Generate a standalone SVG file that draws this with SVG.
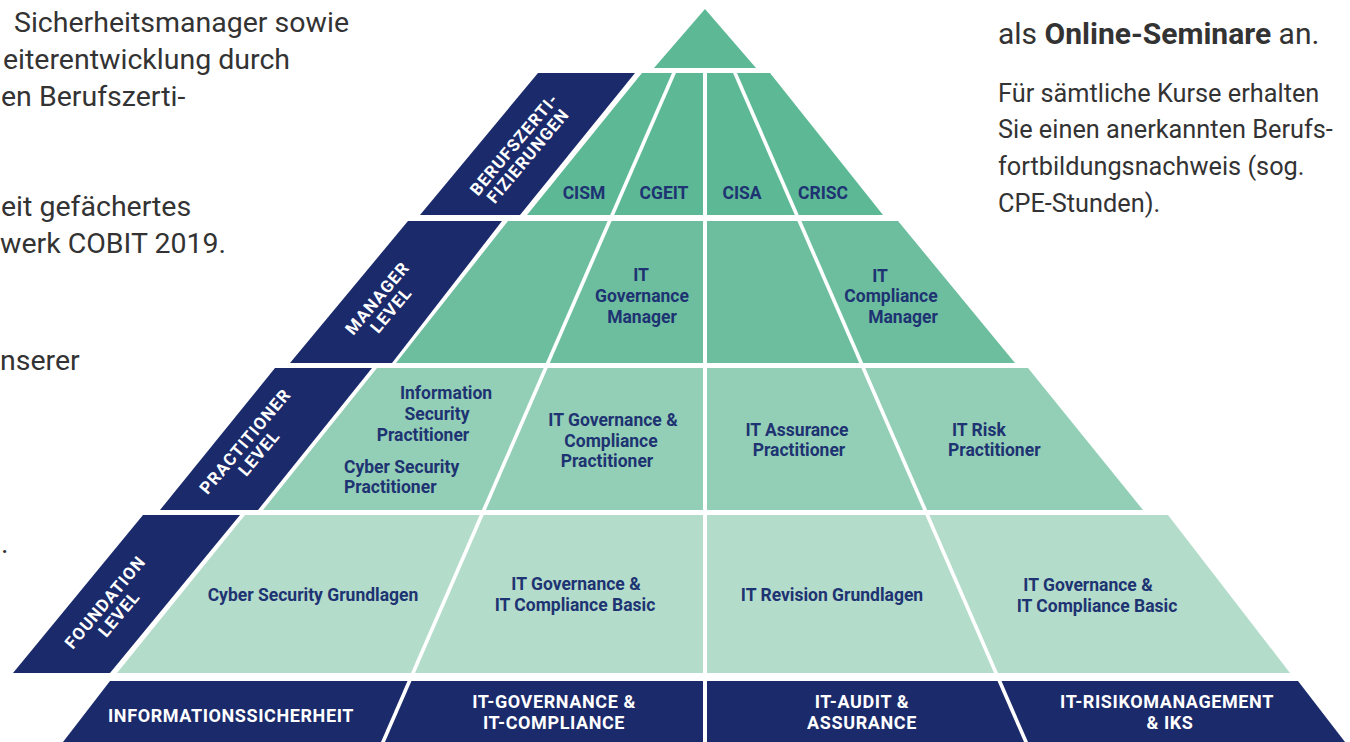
<svg xmlns="http://www.w3.org/2000/svg" width="1350" height="742" viewBox="0 0 1350 742">
<style>
.g0{fill:#5db896}.g1{fill:#6cbe9f}.g2{fill:#93cfb6}.g3{fill:#b3dccb}.nv{fill:#1b2a6b}
.t{font-family:Roboto,"Liberation Sans",sans-serif;font-weight:700;font-size:17.5px;fill:#1e3372;text-anchor:middle}
.ts{text-anchor:start}
.bar{font-family:Roboto,"Liberation Sans",sans-serif;font-weight:700;font-size:18px;fill:#ffffff;text-anchor:middle;letter-spacing:0.6px}
.band{font-family:Roboto,"Liberation Sans",sans-serif;font-weight:700;font-size:17px;fill:#ffffff;text-anchor:middle;letter-spacing:1px}
.body{font-family:Roboto,"Liberation Sans",sans-serif;font-size:28.5px;fill:#333333}
.head{font-family:Roboto,"Liberation Sans",sans-serif;font-size:30px;fill:#333333}
.para{font-family:Roboto,"Liberation Sans",sans-serif;font-size:25.3px;fill:#333333}
</style>
<rect width="1350" height="742" fill="#ffffff"/>
<g id="body-text-left">
<text class="body" x="14" y="32">Sicherheitsmanager sowie</text>
<text class="body" x="3" y="69">eiterentwicklung durch</text>
<text class="body" x="1" y="106">en Berufszerti-</text>
<text class="body" x="1" y="216">eit gefächertes</text>
<text class="body" x="0" y="253">werk COBIT 2019.</text>
<text class="body" x="0" y="370">nserer</text>
<text class="body" x="1" y="553">.</text>
</g>
<g id="body-text-right">
<text class="head" x="998" y="44">als <tspan font-weight="700">Online-Seminare</tspan> an.</text>
<text class="para" x="998" y="102">Für sämtliche Kurse erhalten</text>
<text class="para" x="998" y="138">Sie einen anerkannten Berufs-</text>
<text class="para" x="998" y="175">fortbildungsnachweis (sog.</text>
<text class="para" x="998" y="212">CPE-Stunden).</text>
</g>
<g id="apex"><polygon class="g0" points="705,9 756,68 654,68"/></g>
<g id="band-cert"><polygon class="nv" points="538,73 635,73 520,215 420,215"/>
<g transform="translate(521,150) rotate(-50)"><text class="band" y="-3">BERUFSZERTI-</text><text class="band" y="15">FIZIERUNGEN</text></g></g>
<g id="band-manager"><polygon class="nv" points="408,221 502,221 392,363 290,363"/>
<g transform="translate(384,304) rotate(-50)"><text class="band" y="-3">MANAGER</text><text class="band" y="15">LEVEL</text></g></g>
<g id="band-practitioner"><polygon class="nv" points="275,368 372,368 258,510 160,510"/>
<g transform="translate(252,447) rotate(-50)"><text class="band" y="-3">PRACTITIONER</text><text class="band" y="15">LEVEL</text></g></g>
<g id="band-foundation"><polygon class="nv" points="143,515 240,515 110,673 13,673"/>
<g transform="translate(112,608) rotate(-50)"><text class="band" y="-3">FOUNDATION</text><text class="band" y="15">LEVEL</text></g></g>
<g id="cism"><polygon class="g0" points="642,73 672,73 610.2,215 527,215"/><text class="t" x="584" y="199">CISM</text></g>
<g id="cgeit"><polygon class="g0" points="676,73 703,73 703,215 614.2,215"/><text class="t" x="664" y="199">CGEIT</text></g>
<g id="cisa"><polygon class="g0" points="707,73 733,73 794.8,215 707,215"/><text class="t" x="742" y="199">CISA</text></g>
<g id="crisc"><polygon class="g0" points="737,73 770,73 883,215 798.8,215"/><text class="t" x="823" y="199">CRISC</text></g>
<g id="manager-1"><polygon class="g1" points="508,221 607.6,221 545.8,363 396,363"/></g>
<g id="it-governance-manager"><polygon class="g1" points="611.6,221 703,221 703,363 549.8,363"/>
<text class="t" x="641" y="281">IT</text><text class="t" x="642" y="302">Governance</text><text class="t" x="642" y="323">Manager</text></g>
<g id="manager-3"><polygon class="g1" points="707,221 797.4,221 859.2,363 707,363"/></g>
<g id="it-compliance-manager"><polygon class="g1" points="801.4,221 898,221 1015,363 863.2,363"/>
<text class="t" x="880" y="282">IT</text><text class="t" x="891" y="302">Compliance</text><text class="t" x="903" y="323">Manager</text></g>
<g id="security-practitioner"><polygon class="g2" points="377,368 543.7,368 481.9,510 263,510"/>
<text class="t" x="446" y="399">Information</text><text class="t" x="437" y="420">Security</text><text class="t" x="423" y="441">Practitioner</text>
<text class="t ts" x="344" y="473">Cyber Security</text><text class="t ts" x="344" y="493">Practitioner</text></g>
<g id="it-governance-compliance-practitioner"><polygon class="g2" points="547.7,368 703,368 703,510 485.9,510"/>
<text class="t" x="613" y="426">IT Governance &amp;</text><text class="t" x="611" y="447">Compliance</text><text class="t" x="607" y="467">Practitioner</text></g>
<g id="it-assurance-practitioner"><polygon class="g2" points="707,368 861.3,368 923.1,510 707,510"/>
<text class="t" x="797" y="436">IT Assurance</text><text class="t" x="799" y="456">Practitioner</text></g>
<g id="it-risk-practitioner"><polygon class="g2" points="865.3,368 1028,368 1143,510 927.1,510"/>
<text class="t ts" x="952" y="436">IT Risk</text><text class="t ts" x="948" y="456">Practitioner</text></g>
<g id="cyber-security-grundlagen"><polygon class="g3" points="245,515 479.7,515 411,673 117,673"/>
<text class="t" x="313" y="601">Cyber Security Grundlagen</text></g>
<g id="it-governance-basic-1"><polygon class="g3" points="483.7,515 703,515 703,673 415,673"/>
<text class="t" x="576" y="590">IT Governance &amp;</text><text class="t" x="575" y="611">IT Compliance Basic</text></g>
<g id="it-revision-grundlagen"><polygon class="g3" points="707,515 925.3,515 994,673 707,673"/>
<text class="t" x="832" y="601">IT Revision Grundlagen</text></g>
<g id="it-governance-basic-2"><polygon class="g3" points="929.3,515 1168,515 1290,673 998,673"/>
<text class="t" x="1088" y="591">IT Governance &amp;</text><text class="t" x="1097" y="612">IT Compliance Basic</text></g>
<g id="bar-informationssicherheit"><polygon class="nv" points="110,681 407.5,681 381,742 63,742"/>
<text class="bar" x="231" y="722">INFORMATIONSSICHERHEIT</text></g>
<g id="bar-it-governance"><polygon class="nv" points="411.5,681 703,681 703,742 385,742"/>
<text class="bar" x="554" y="708">IT-GOVERNANCE &amp;</text><text class="bar" x="554" y="729">IT-COMPLIANCE</text></g>
<g id="bar-it-audit"><polygon class="nv" points="707,681 997.5,681 1024,742 707,742"/>
<text class="bar" x="862" y="708">IT-AUDIT &amp;</text><text class="bar" x="862" y="729">ASSURANCE</text></g>
<g id="bar-it-risiko"><polygon class="nv" points="1001.5,681 1298,681 1345,742 1028,742"/>
<text class="bar" x="1167" y="708">IT-RISIKOMANAGEMENT</text><text class="bar" x="1170" y="729">&amp; IKS</text></g>
</svg>
